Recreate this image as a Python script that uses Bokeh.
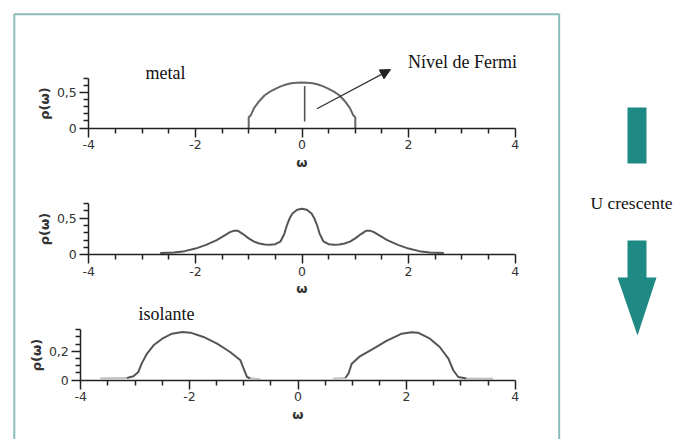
from bokeh.plotting import figure
from bokeh.models import (Range1d, LinearAxis, FixedTicker, CustomJSTickFormatter,
                          Label, Arrow, NormalHead)
from bokeh.embed import file_html
from bokeh.resources import INLINE

# ---- data -------------------------------------------------------------
# metal: semicircular density of states
metal_w = [-1.0, -1.0, -0.96, -0.9, -0.8, -0.7, -0.6, -0.5, -0.4, -0.3, -0.2, -0.1, 0.0,
           0.1, 0.2, 0.3, 0.4, 0.5, 0.6, 0.7, 0.8, 0.9, 0.96, 1.0, 1.0]
metal_rho = [0.0, 0.15, 0.18, 0.28, 0.38, 0.46, 0.51, 0.55, 0.585, 0.61, 0.628, 0.637, 0.64,
             0.637, 0.628, 0.61, 0.585, 0.55, 0.51, 0.46, 0.38, 0.28, 0.18, 0.15, 0.0]

# Fermi level marker and its pointer
fermi_w = 0.05
fermi_rho = (0.09, 0.59)
fermi_arrow_start = (0.28, 0.27)
fermi_arrow_end = (1.66, 0.82)

# correlated metal: quasiparticle peak plus Hubbard bands
mid_w = [-2.66, -2.4, -2.2, -2.0, -1.8, -1.6, -1.45, -1.35, -1.27, -1.2, -1.1, -1.0, -0.9,
         -0.8, -0.7, -0.6, -0.5, -0.4, -0.33, -0.28, -0.23, -0.18, -0.09, 0.0,
         0.09, 0.18, 0.23, 0.28, 0.33, 0.4, 0.5, 0.6, 0.7, 0.8, 0.9, 1.0, 1.1, 1.2,
         1.27, 1.35, 1.45, 1.6, 1.8, 2.0, 2.2, 2.4, 2.66]
mid_rho = [0.025, 0.03, 0.05, 0.085, 0.135, 0.2, 0.265, 0.31, 0.33, 0.328, 0.28, 0.225, 0.18,
           0.155, 0.142, 0.138, 0.145, 0.185, 0.29, 0.41, 0.5, 0.565, 0.615, 0.63,
           0.615, 0.565, 0.5, 0.41, 0.29, 0.185, 0.145, 0.138, 0.142, 0.155, 0.18, 0.225, 0.28,
           0.328, 0.33, 0.31, 0.265, 0.2, 0.135, 0.085, 0.05, 0.03, 0.025]

# insulator: lower and upper Hubbard bands
lower_w = [-3.15, -3.03, -2.94, -2.88, -2.78, -2.66, -2.50, -2.32, -2.13, -1.98, -1.74,
           -1.49, -1.25, -1.06, -0.99, -0.94, -0.88]
lower_rho = [0.014, 0.026, 0.056, 0.114, 0.184, 0.242, 0.288, 0.323, 0.334, 0.33, 0.30,
             0.254, 0.195, 0.137, 0.068, 0.021, 0.012]
upper_w = [0.87, 0.93, 0.99, 1.14, 1.39, 1.63, 1.91, 2.09, 2.21, 2.43, 2.61, 2.77, 2.86,
           2.95, 3.10]
upper_rho = [0.014, 0.045, 0.114, 0.165, 0.219, 0.272, 0.323, 0.332, 0.33, 0.288, 0.23,
             0.149, 0.068, 0.021, 0.01]
tail_w = [[-3.64, -3.15], [-0.88, -0.69], [0.65, 0.87], [3.10, 3.59]]
tail_rho = [[0.012, 0.014], [0.012, 0.01], [0.01, 0.014], [0.01, 0.01]]

# axis ticks
w_major = [-4, -2, 0, 2, 4]
w_minor = [-3.5, -3, -2.5, -1.5, -1, -0.5, 0.5, 1, 1.5, 2.5, 3, 3.5]
rho_major_12 = [0, 0.5]
rho_minor_12 = [0.1, 0.2, 0.3, 0.4, 0.6, 0.7]
rho_major_3 = [0, 0.2]
rho_minor_3 = [0.05, 0.1, 0.15, 0.25, 0.3, 0.35]

# ---- canvas -------------------------------------------------------------
W, H = 680, 439

def w_range(zero_px, px_per_unit):
    return Range1d(-zero_px / px_per_unit, (W - zero_px) / px_per_unit)

def rho_range(zero_py, px_per_unit):
    return Range1d((zero_py - H) / px_per_unit, zero_py / px_per_unit)

p = figure(width=W, height=H, x_range=Range1d(0, W), y_range=Range1d(H, 0),
           x_axis_type=None, y_axis_type=None, toolbar_location=None,
           output_backend="svg", min_border=0, outline_line_color=None)
p.background_fill_color = "white"
p.border_fill_color = "white"

p.extra_x_ranges = {"w12": w_range(301.5, 53.3), "w3": w_range(297.5, 54.3)}
p.extra_y_ranges = {"p1": rho_range(127.5, 71.2),
                    "p2": rho_range(254.3, 73.2),
                    "p3": rho_range(379.5, 143.5)}

# framing box around the three panels
p.quad(left=13.8, right=558.7, top=13.8, bottom=H + 20, fill_color=None,
       line_color="#8bbcbc", line_width=2)

# plain hyphen for negatives, decimal comma
plain = CustomJSTickFormatter(code="return String(tick).replace('.', ',');")
TICK_FONT = "DejaVu Sans"

def add_axes(xr, yr, rho_major, rho_minor, rho_top):
    ax = LinearAxis(x_range_name=xr, y_range_name=yr, fixed_location=0,
                    bounds=(-4, 4), ticker=FixedTicker(ticks=w_major, minor_ticks=w_minor),
                    formatter=plain, axis_label="ω")
    ay = LinearAxis(x_range_name=xr, y_range_name=yr, fixed_location=-4,
                    bounds=(0, rho_top), ticker=FixedTicker(ticks=rho_major, minor_ticks=rho_minor),
                    formatter=plain, axis_label="ρ(ω)")
    for a in (ax, ay):
        a.axis_line_color = "#222"
        a.axis_line_width = 1.5
        a.major_tick_line_color = "#222"
        a.major_tick_line_width = 1.5
        a.minor_tick_line_color = "#222"
        a.minor_tick_line_width = 1.5
        a.major_tick_in = 0
        a.major_tick_out = 9
        a.minor_tick_in = 0
        a.minor_tick_out = 5
        a.major_label_text_font = TICK_FONT
        a.major_label_text_font_size = "12.5px"
        a.major_label_text_color = "#333"
        a.major_label_standoff = 3
        a.axis_label_text_font = TICK_FONT
        a.axis_label_text_font_size = "13px"
        a.axis_label_text_font_style = "bold"
        a.axis_label_text_color = "#333"
        a.axis_label_standoff = 2
    p.add_layout(ax, "below")
    p.add_layout(ay, "left")

add_axes("w12", "p1", rho_major_12, rho_minor_12, 0.7)
add_axes("w12", "p2", rho_major_12, rho_minor_12, 0.7)
add_axes("w3", "p3", rho_major_3, rho_minor_3, 0.35)

# panel 1: metal
p.line(metal_w, metal_rho, x_range_name="w12", y_range_name="p1",
       line_color="#666", line_width=2)
p.segment(x0=[fermi_w], y0=[fermi_rho[0]], x1=[fermi_w], y1=[fermi_rho[1]],
          x_range_name="w12", y_range_name="p1", line_color="#555", line_width=1.6)
p.add_layout(Arrow(x_start=fermi_arrow_start[0], y_start=fermi_arrow_start[1],
                   x_end=fermi_arrow_end[0], y_end=fermi_arrow_end[1],
                   x_range_name="w12", y_range_name="p1",
                   line_color="#333", line_width=1.3,
                   end=NormalHead(size=10, fill_color="#222", line_color="#222")))

# panel 2: correlated metal
p.line(mid_w, mid_rho, x_range_name="w12", y_range_name="p2",
       line_color="#555", line_width=2)

# panel 3: insulator
p.multi_line(tail_w, tail_rho, x_range_name="w3", y_range_name="p3",
             line_color="#c4c4c4", line_width=2)
p.line(lower_w, lower_rho, x_range_name="w3", y_range_name="p3",
       line_color="#555", line_width=2)
p.line(upper_w, upper_rho, x_range_name="w3", y_range_name="p3",
       line_color="#555", line_width=2)

# captions
SERIF = "Liberation Serif"
for txt, x, y, size in [("metal", 165, 72, "18px"),
                        ("Nível de Fermi", 462, 61, "18px"),
                        ("isolante", 166, 313, "18px"),
                        ("U crescente", 631, 202, "17.5px")]:
    p.add_layout(Label(x=x, y=y, text=txt, text_font=SERIF, text_font_size=size,
                       text_color="#111", text_align="center", text_baseline="middle"))

# "increasing U" arrow on the right, broken by its caption
TEAL = "#1f8a84"
p.quad(left=[627], right=[646], top=[107], bottom=[163], fill_color=TEAL, line_color=None)
p.patch([627, 646, 646, 656, 637, 617, 627], [240, 240, 277, 277, 335, 277, 277],
        fill_color=TEAL, line_color=None)

open("out.html", "w").write(file_html(p, INLINE))
